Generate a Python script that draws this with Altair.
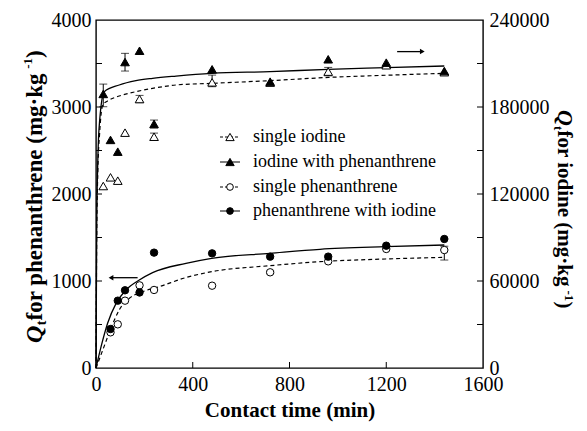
import altair as alt
import pandas as pd

FONT = "Liberation Serif"
W, H = 387, 348

# ---------------- data ----------------
# phenanthrene (left axis, mg/kg)
t_phen = [60, 90, 120, 180, 240, 480, 720, 960, 1200, 1440]
phen_single = [410, 502, 774, 950, 897, 946, 1100, 1226, 1368, 1356]
phen_with_iodine = [448, 774, 893, 868, 1326, 1318, 1280, 1280, 1406, 1483]

# iodine (right axis, mg/kg)
t_iod = [30, 60, 90, 120, 180, 240, 480, 720, 960, 1200, 1440]
iod_single = [125500, 131500, 129200, 162300, 185500, 159500, 197000, 196800, 204400, 208800, 204000]
iod_with_phen = [189000, 157300, 149200, 211000, 218800, 168300, 206000, 197500, 212900, 210600, 204800]

# fitted curves
fit_t_phen_with = [0, 21, 48, 83, 124, 179, 234, 372, 478, 719, 926, 1197, 1440]
fit_q_phen_with = [0, 245, 514, 743, 897, 1011, 1096, 1203, 1261, 1318, 1364, 1394, 1414]
fit_t_phen_single = [0, 28, 76, 96, 138, 193, 262, 372, 478, 719, 926, 1197, 1440]
fit_q_phen_single = [0, 207, 552, 667, 801, 877, 935, 1040, 1107, 1176, 1222, 1253, 1272]

fit_t_iod_with = [0, 3, 8, 15, 34, 96, 165, 234, 331, 478, 719, 960, 1200, 1440]
fit_q_iod_with = [0, 97200, 146400, 170400, 190560, 195180, 198180, 199800, 201360, 203220,
                  204360, 205980, 207120, 208260]
fit_t_iod_single = [0, 3, 8, 15, 28, 55, 96, 165, 234, 331, 478, 719, 960, 1200, 1440]
fit_q_iod_single = [0, 90000, 138000, 162000, 181380, 184800, 187560, 190560, 192840, 195180,
                    196320, 198180, 200400, 201900, 203220]

# error bars
err_phen_t = [720, 1440]
err_phen_lo = [1085, 1241]
err_phen_hi = [1115, 1400]
err_iod_t = [30, 120, 180, 240, 240, 480, 960]
err_iod_lo = [180200, 204800, 183000, 157000, 165500, 194000, 201500]
err_iod_hi = [195800, 217000, 188000, 162000, 171000, 202000, 207300]

# arrows (which axis each series belongs to)
arrow_left = {"t0": 62, "t1": 172, "q": 1038}
arrow_right = {"t0": 1245, "t1": 1349, "q": 218200}

# axis ticks
x_labels = [0, 400, 800, 1200, 1600]
x_ticks = [400, 800, 1200]
l_labels = [0, 1000, 2000, 3000, 4000]
l_ticks = [500, 1000, 1500, 2000, 2500, 3000, 3500]
r_labels = [0, 60000, 120000, 180000, 240000]
r_ticks = [30000, 60000, 90000, 120000, 150000, 180000, 210000]

legend_labels = ["single iodine", "iodine with phenanthrene",
                 "single phenanthrene", "phenanthrene with iodine"]

# ---------------- scales / axes ----------------
xaxis = alt.Axis(values=x_labels, ticks=False, domain=False, grid=False, format="d",
                 labelFont=FONT, labelFontSize=20, labelColor="black", labelPadding=6,
                 labelFlush=False, labelOverlap=False,
                 title="Contact time (min)", titleFont=FONT, titleFontSize=21,
                 titleFontWeight="bold", titleColor="black", titlePadding=5)
xscale = alt.Scale(domain=[0, 1600], nice=False)
axisL = alt.Axis(values=l_labels, ticks=False, domain=False, grid=False, orient="left", format="d",
                 labelFont=FONT, labelFontSize=20, labelColor="black", labelPadding=5,
                 labelFlush=False, labelOverlap=False, title=None)
scaleL = alt.Scale(domain=[0, 4000], nice=False)
axisR = alt.Axis(values=r_labels, ticks=False, domain=False, grid=False, orient="right", format="d",
                 labelFont=FONT, labelFontSize=20, labelColor="black", labelPadding=6,
                 labelFlush=False, labelOverlap=False, title=None)
scaleR = alt.Scale(domain=[0, 240000], nice=False)


def X(f):
    return alt.X(f"{f}:Q", scale=xscale, axis=xaxis)


def YL(f):
    return alt.Y(f"{f}:Q", scale=scaleL, axis=axisL)


def YR(f):
    return alt.Y(f"{f}:Q", scale=scaleR, axis=axisR)


one = pd.DataFrame({"k": [0]})

# ---------------- left (phenanthrene) ----------------
dfp = pd.DataFrame({"t": t_phen, "s": phen_single, "w": phen_with_iodine})
fpw = pd.DataFrame({"t": fit_t_phen_with, "q": fit_q_phen_with})
fps = pd.DataFrame({"t": fit_t_phen_single, "q": fit_q_phen_single})
epd = pd.DataFrame({"t": err_phen_t, "lo": err_phen_lo, "hi": err_phen_hi})

line_pw = alt.Chart(fpw).mark_line(color="black", strokeWidth=1.3, interpolate="monotone").encode(
    x=X("t"), y=YL("q"))
line_ps = alt.Chart(fps).mark_line(color="black", strokeWidth=1.2, strokeDash=[4, 3],
                                   interpolate="monotone").encode(x=X("t"), y=YL("q"))
err_p = alt.Chart(epd).mark_rule(color="black", strokeWidth=1).encode(
    x=X("t"), y=YL("lo"), y2="hi")
cap_p = alt.Chart(epd).mark_tick(color="black", orient="horizontal", size=8, thickness=1).encode(
    x=X("t"), y=YL("lo"))
cap_p2 = alt.Chart(epd).mark_tick(color="black", orient="horizontal", size=8, thickness=1).encode(
    x=X("t"), y=YL("hi"))
pts_ps = alt.Chart(dfp).mark_point(shape="circle", filled=True, fill="white", stroke="black",
                                   strokeWidth=1, size=55, opacity=1).encode(x=X("t"), y=YL("s"))
pts_pw = alt.Chart(dfp).mark_point(shape="circle", filled=True, fill="black", stroke="black",
                                   strokeWidth=1, size=55, opacity=1).encode(x=X("t"), y=YL("w"))

al = pd.DataFrame([arrow_left])
arr_l = alt.Chart(al).mark_rule(color="black", strokeWidth=1.3).encode(
    x=X("t0"), x2="t1", y=YL("q"))
arr_lh = alt.Chart(al).mark_point(shape="triangle-left", filled=True, color="black",
                                  size=30, opacity=1).encode(x=X("t0"), y=YL("q"))

lt = alt.Chart(pd.DataFrame({"v": l_ticks})).mark_rule(color="black", strokeWidth=1).encode(
    x=alt.value(0), x2=alt.value(6), y=YL("v"))
xt = alt.Chart(pd.DataFrame({"v": x_ticks})).mark_rule(color="black", strokeWidth=1).encode(
    x=X("v"), y=alt.value(H), y2=alt.value(H - 6))

# legend
leg_y = [117, 142, 167, 191]
leg_shape = ["triangle-up", "triangle-up", "circle", "circle"]
leg_fill = ["white", "black", "white", "black"]
leg_dash = [[3, 2], [1, 0], [3, 2], [1, 0]]
leg_size = [70, 70, 45, 45]
legend_layers = []
for i, lab in enumerate(legend_labels):
    legend_layers.append(alt.Chart(one).mark_rule(color="black", strokeWidth=1.2,
                                                  strokeDash=leg_dash[i]).encode(
        x=alt.value(124), x2=alt.value(144), y=alt.value(leg_y[i])))
    legend_layers.append(alt.Chart(one).mark_point(shape=leg_shape[i], filled=True,
                                                   fill=leg_fill[i], stroke="black",
                                                   strokeWidth=1, size=leg_size[i],
                                                   opacity=1).encode(
        x=alt.value(134), y=alt.value(leg_y[i])))
    legend_layers.append(alt.Chart(one).mark_text(text=lab, align="left", baseline="middle",
                                                  font=FONT, fontSize=18, color="black").encode(
        x=alt.value(157), y=alt.value(leg_y[i])))


# axis titles built from pieces (italic Q, subscript t, superscript -1)
def piece(txt, x, y, size, angle, style="normal"):
    return alt.Chart(one).mark_text(text=txt, align="left", baseline="alphabetic", angle=angle,
                                    font=FONT, fontSize=size, fontWeight="bold",
                                    fontStyle=style, color="black").encode(
        x=alt.value(x), y=alt.value(y))


title_layers = [
    piece("Q", -54, 323, 24, 270, "italic"),
    piece("t", -50, 305.2, 14, 270),
    piece(" for phenanthrene (mg·kg", -54, 300.5, 23, 270),
    piece("-1", -64, 48.8, 13, 270),
    piece(")", -54, 38, 23, 270),
    piece("Q", 462, 90, 22, 90, "italic"),
    piece("t", 458, 106, 13, 90),
    piece(" for iodine (mg·kg", 462, 110.5, 21, 90),
    piece("-1", 469, 270.5, 13, 90),
    piece(")", 462, 281.5, 21, 90),
]

left = alt.layer(line_ps, line_pw, err_p, cap_p, cap_p2, pts_ps, pts_pw, arr_l, arr_lh, lt, xt,
                 *legend_layers, *title_layers)

# ---------------- right (iodine) ----------------
dfi = pd.DataFrame({"t": t_iod, "s": iod_single, "w": iod_with_phen})
fiw = pd.DataFrame({"t": fit_t_iod_with, "q": fit_q_iod_with})
fis = pd.DataFrame({"t": fit_t_iod_single, "q": fit_q_iod_single})
eid = pd.DataFrame({"t": err_iod_t, "lo": err_iod_lo, "hi": err_iod_hi})

line_iw = alt.Chart(fiw).mark_line(color="black", strokeWidth=1.3, interpolate="monotone").encode(
    x=X("t"), y=YR("q"))
line_is = alt.Chart(fis).mark_line(color="black", strokeWidth=1.2, strokeDash=[4, 3],
                                   interpolate="monotone").encode(x=X("t"), y=YR("q"))
err_i = alt.Chart(eid).mark_rule(color="black", strokeWidth=1).encode(
    x=X("t"), y=YR("lo"), y2="hi")
cap_i = alt.Chart(eid).mark_tick(color="black", orient="horizontal", size=8, thickness=1).encode(
    x=X("t"), y=YR("lo"))
cap_i2 = alt.Chart(eid).mark_tick(color="black", orient="horizontal", size=8, thickness=1).encode(
    x=X("t"), y=YR("hi"))
pts_is = alt.Chart(dfi).mark_point(shape="triangle-up", filled=True, fill="white", stroke="black",
                                   strokeWidth=1, size=75, opacity=1).encode(x=X("t"), y=YR("s"))
pts_iw = alt.Chart(dfi).mark_point(shape="triangle-up", filled=True, fill="black", stroke="black",
                                   strokeWidth=1, size=75, opacity=1).encode(x=X("t"), y=YR("w"))

ar = pd.DataFrame([arrow_right])
arr_r = alt.Chart(ar).mark_rule(color="black", strokeWidth=1.3).encode(
    x=X("t0"), x2="t1", y=YR("q"))
arr_rh = alt.Chart(ar).mark_point(shape="triangle-right", filled=True, color="black",
                                  size=30, opacity=1).encode(x=X("t1"), y=YR("q"))
rt = alt.Chart(pd.DataFrame({"v": r_ticks})).mark_rule(color="black", strokeWidth=1).encode(
    x=alt.value(W - 6), x2=alt.value(W), y=YR("v"))

right = alt.layer(line_is, line_iw, err_i, cap_i, cap_i2, pts_is, pts_iw, arr_r, arr_rh, rt)

chart = alt.layer(left, right).resolve_scale(y="independent").properties(
    width=W, height=H,
    autosize=alt.AutoSizeParams(type="none"),
    padding={"left": 88, "top": 12, "right": 96, "bottom": 55},
    background="white",
).configure_view(stroke="black", strokeWidth=1.4)

chart.save("out.html", embed_options={"renderer": "svg", "actions": False})
